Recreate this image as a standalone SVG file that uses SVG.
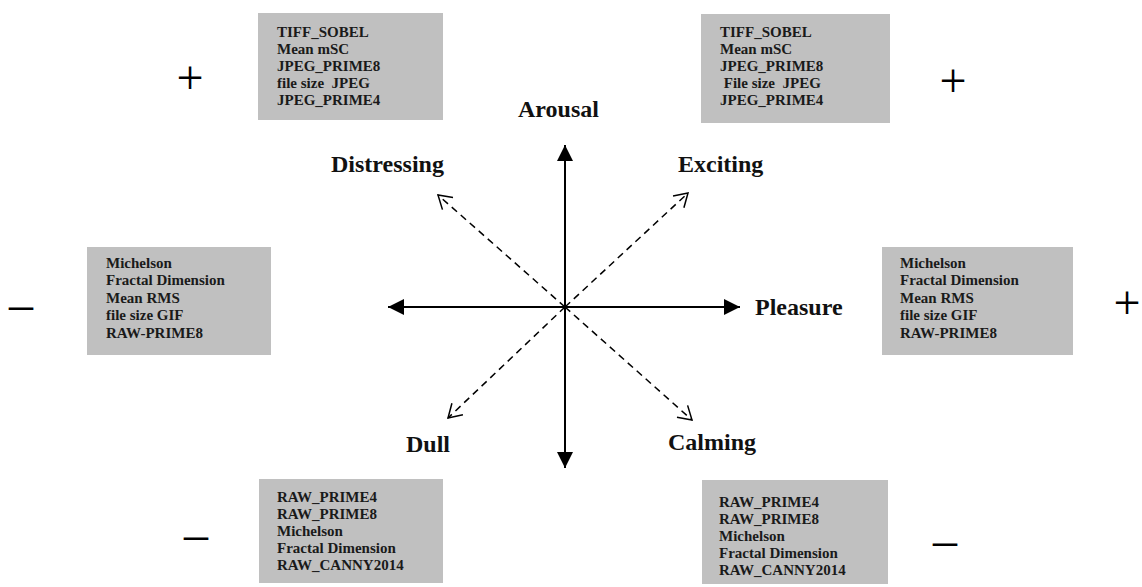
<svg xmlns="http://www.w3.org/2000/svg" width="1142" height="587" viewBox="0 0 1142 587">
<style>
.box{fill:#c0c0c0;}
.bt{font-family:"Liberation Serif","Times New Roman",serif;font-weight:bold;font-size:15px;fill:#1a1a1a;}
.lbl{font-family:"Liberation Serif","Times New Roman",serif;font-weight:bold;font-size:24px;fill:#111;}
.sign{font-family:"Liberation Serif","Times New Roman",serif;font-size:48px;fill:#000;text-anchor:middle;}
.axis{stroke:#000;stroke-width:2;fill:none;}
.diag{stroke:#000;stroke-width:1.5;stroke-dasharray:7,5;fill:none;}
</style>
<defs>
<marker id="solid" markerUnits="userSpaceOnUse" markerWidth="18" markerHeight="16" refX="16" refY="8" orient="auto-start-reverse">
<path d="M0,0 L16,8 L0,16 Z" fill="#000"/>
</marker>
<marker id="open" markerUnits="userSpaceOnUse" markerWidth="16" markerHeight="18" refX="14" refY="9" orient="auto">
<path d="M1,1 L14,9 L1,17" fill="none" stroke="#000" stroke-width="1.5"/>
</marker>
</defs>
<rect width="1142" height="587" fill="#fff"/>

<g id="connectors">
<line class="axis" x1="565" y1="468" x2="565" y2="145" marker-start="url(#solid)" marker-end="url(#solid)"/>
<line class="axis" x1="740" y1="307" x2="388" y2="307" marker-start="url(#solid)" marker-end="url(#solid)"/>
<line class="diag" x1="565" y1="307" x2="438" y2="195" marker-end="url(#open)"/>
<line class="diag" x1="565" y1="307" x2="688" y2="193" marker-end="url(#open)"/>
<line class="diag" x1="565" y1="307" x2="448" y2="418" marker-end="url(#open)"/>
<line class="diag" x1="565" y1="307" x2="692" y2="420" marker-end="url(#open)"/>
</g>

<g id="labels">
<text class="lbl" x="518" y="117">Arousal</text>
<text class="lbl" x="331" y="172">Distressing</text>
<text class="lbl" x="678" y="172">Exciting</text>
<text class="lbl" x="755" y="315">Pleasure</text>
<text class="lbl" x="406" y="452">Dull</text>
<text class="lbl" x="668" y="450">Calming</text>
</g>

<g id="box-top-left">
<rect class="box" x="258" y="13" width="185" height="107"/>
<text class="bt" x="277" y="37">TIFF_SOBEL</text>
<text class="bt" x="277" y="54">Mean mSC</text>
<text class="bt" x="277" y="71">JPEG_PRIME8</text>
<text class="bt" x="277" y="88" xml:space="preserve">file size  JPEG</text>
<text class="bt" x="277" y="105">JPEG_PRIME4</text>
</g>

<g id="box-top-right">
<rect class="box" x="701" y="14" width="189" height="109"/>
<text class="bt" x="720" y="37">TIFF_SOBEL</text>
<text class="bt" x="720" y="54">Mean mSC</text>
<text class="bt" x="720" y="71">JPEG_PRIME8</text>
<text class="bt" x="720" y="88" xml:space="preserve"> File size  JPEG</text>
<text class="bt" x="720" y="105">JPEG_PRIME4</text>
</g>

<g id="box-left">
<rect class="box" x="87" y="247" width="184" height="108"/>
<text class="bt" x="106" y="268">Michelson</text>
<text class="bt" x="106" y="285">Fractal Dimension</text>
<text class="bt" x="106" y="303">Mean RMS</text>
<text class="bt" x="106" y="320">file size GIF</text>
<text class="bt" x="106" y="338">RAW-PRIME8</text>
</g>

<g id="box-right">
<rect class="box" x="882" y="247" width="191" height="108"/>
<text class="bt" x="900" y="268">Michelson</text>
<text class="bt" x="900" y="285">Fractal Dimension</text>
<text class="bt" x="900" y="303">Mean RMS</text>
<text class="bt" x="900" y="320">file size GIF</text>
<text class="bt" x="900" y="338">RAW-PRIME8</text>
</g>

<g id="box-bottom-left">
<rect class="box" x="259" y="479" width="184" height="104"/>
<text class="bt" x="277" y="502">RAW_PRIME4</text>
<text class="bt" x="277" y="519">RAW_PRIME8</text>
<text class="bt" x="277" y="536">Michelson</text>
<text class="bt" x="277" y="553">Fractal Dimension</text>
<text class="bt" x="277" y="570">RAW_CANNY2014</text>
</g>

<g id="box-bottom-right">
<rect class="box" x="702" y="480" width="186" height="104"/>
<text class="bt" x="719" y="507">RAW_PRIME4</text>
<text class="bt" x="719" y="524">RAW_PRIME8</text>
<text class="bt" x="719" y="541">Michelson</text>
<text class="bt" x="719" y="558">Fractal Dimension</text>
<text class="bt" x="719" y="575">RAW_CANNY2014</text>
</g>

<g id="signs">
<text class="sign" x="190" y="94">+</text>
<text class="sign" x="953" y="97">+</text>
<text class="sign" x="1127" y="319">+</text>
<text class="sign" x="21" y="320">–</text>
<text class="sign" x="196" y="550">–</text>
<text class="sign" x="945" y="556">–</text>
</g>
</svg>
